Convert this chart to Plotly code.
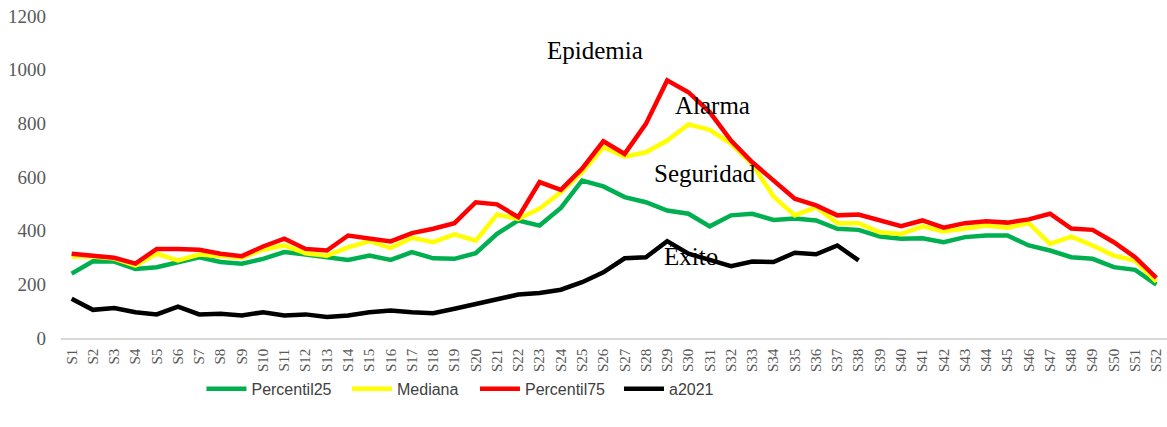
import plotly.graph_objects as go

weeks = [f"S{i}" for i in range(1, 53)]

percentil25 = [240, 286, 285, 257, 264, 283, 301, 283, 277, 295, 320, 311, 299, 291, 307, 291,
               320, 297, 295, 316, 388, 438, 419, 485, 587, 565, 525, 506, 475, 463, 416, 457,
               463, 440, 445, 438, 407, 403, 378, 370, 372, 357, 376, 382, 382, 345, 326, 301,
               295, 264, 254, 199]
mediana = [304, 304, 296, 270, 314, 289, 311, 304, 299, 329, 345, 316, 307, 338, 361, 336,
           373, 357, 386, 363, 460, 444, 482, 543, 618, 711, 676, 692, 736, 796, 776, 724,
           648, 527, 457, 488, 428, 428, 394, 388, 416, 397, 407, 419, 411, 428, 351, 378,
           345, 307, 289, 210]
percentil75 = [314, 307, 299, 277, 332, 332, 329, 314, 305, 341, 370, 332, 326, 382, 373, 360,
               391, 407, 428, 506, 498, 450, 581, 552, 631, 733, 686, 798, 960, 916, 842, 736,
               655, 587, 519, 494, 457, 460, 440, 417, 438, 411, 428, 435, 430, 442, 463, 408,
               403, 357, 301, 224]
a2021 = [146, 105, 112, 96, 88, 117, 88, 90, 84, 96, 84, 88, 78, 84, 96, 102,
         96, 92, 109, 127, 148, 162, 168, 180, 208, 245, 297, 301, 361, 314, 291, 268,
         285, 283, 318, 312, 345, 289]

series = [
    ("Percentil25", percentil25, "#00B050"),
    ("Mediana", mediana, "#FFFF00"),
    ("Percentil75", percentil75, "#FF0000"),
    ("a2021", a2021, "#000000"),
]
legend_ids = ["legend", "legend2", "legend3", "legend4"]
legend_x = [0.127, 0.2586, 0.3743, 0.5045]

fig = go.Figure()
for (name, vals, color), lid in zip(series, legend_ids):
    fig.add_trace(go.Scatter(
        x=weeks[:len(vals)], y=vals, name=name, mode="lines",
        line=dict(color=color, width=4.5), legend=lid,
    ))

labels = [
    ("Epidemia", 0.483, 0.894),
    ("Alarma", 0.5895, 0.7236),
    ("Seguridad", 0.5823, 0.512),
    ("Éxito", 0.5696, 0.2516),
]
for text, xp, yp in labels:
    fig.add_annotation(text=text, x=xp, y=yp, xref="paper", yref="paper",
                       showarrow=False, xanchor="center", yanchor="middle",
                       font=dict(family="Liberation Serif", size=25, color="#000000"))

legend_style = dict(orientation="h", y=-0.158, xanchor="left", yanchor="middle",
                    font=dict(family="Liberation Sans", size=16, color="#404040"),
                    itemwidth=40, bgcolor="rgba(0,0,0,0)")
layout_legends = {lid: dict(x=lx, **legend_style) for lid, lx in zip(legend_ids, legend_x)}

fig.update_layout(
    width=1167, height=427,
    margin=dict(l=61, r=0, t=16, b=89),
    paper_bgcolor="white", plot_bgcolor="white",
    showlegend=True,
    **layout_legends,
)
fig.update_xaxes(
    type="category", range=[-0.5, 51.5], tickangle=-90, showgrid=False, ticks="",
    showline=True, linecolor="#d9d9d9", linewidth=1.5,
    tickfont=dict(family="Liberation Serif", size=15, color="#595959"),
    ticklabelstandoff=3,
)
fig.update_yaxes(
    range=[0, 1200], dtick=200, showgrid=False, zeroline=False, showline=False, ticks="",
    tickfont=dict(family="Liberation Serif", size=19, color="#595959"),
    ticklabelstandoff=14,
)

fig.write_html("out.html", config={"displayModeBar": False})

# remove the browser's default body margin so the figure sits at the page origin
with open("out.html", encoding="utf-8") as f:
    html = f.read()
html = html.replace("<body>", '<body style="margin:0">', 1)
with open("out.html", "w", encoding="utf-8") as f:
    f.write(html)
